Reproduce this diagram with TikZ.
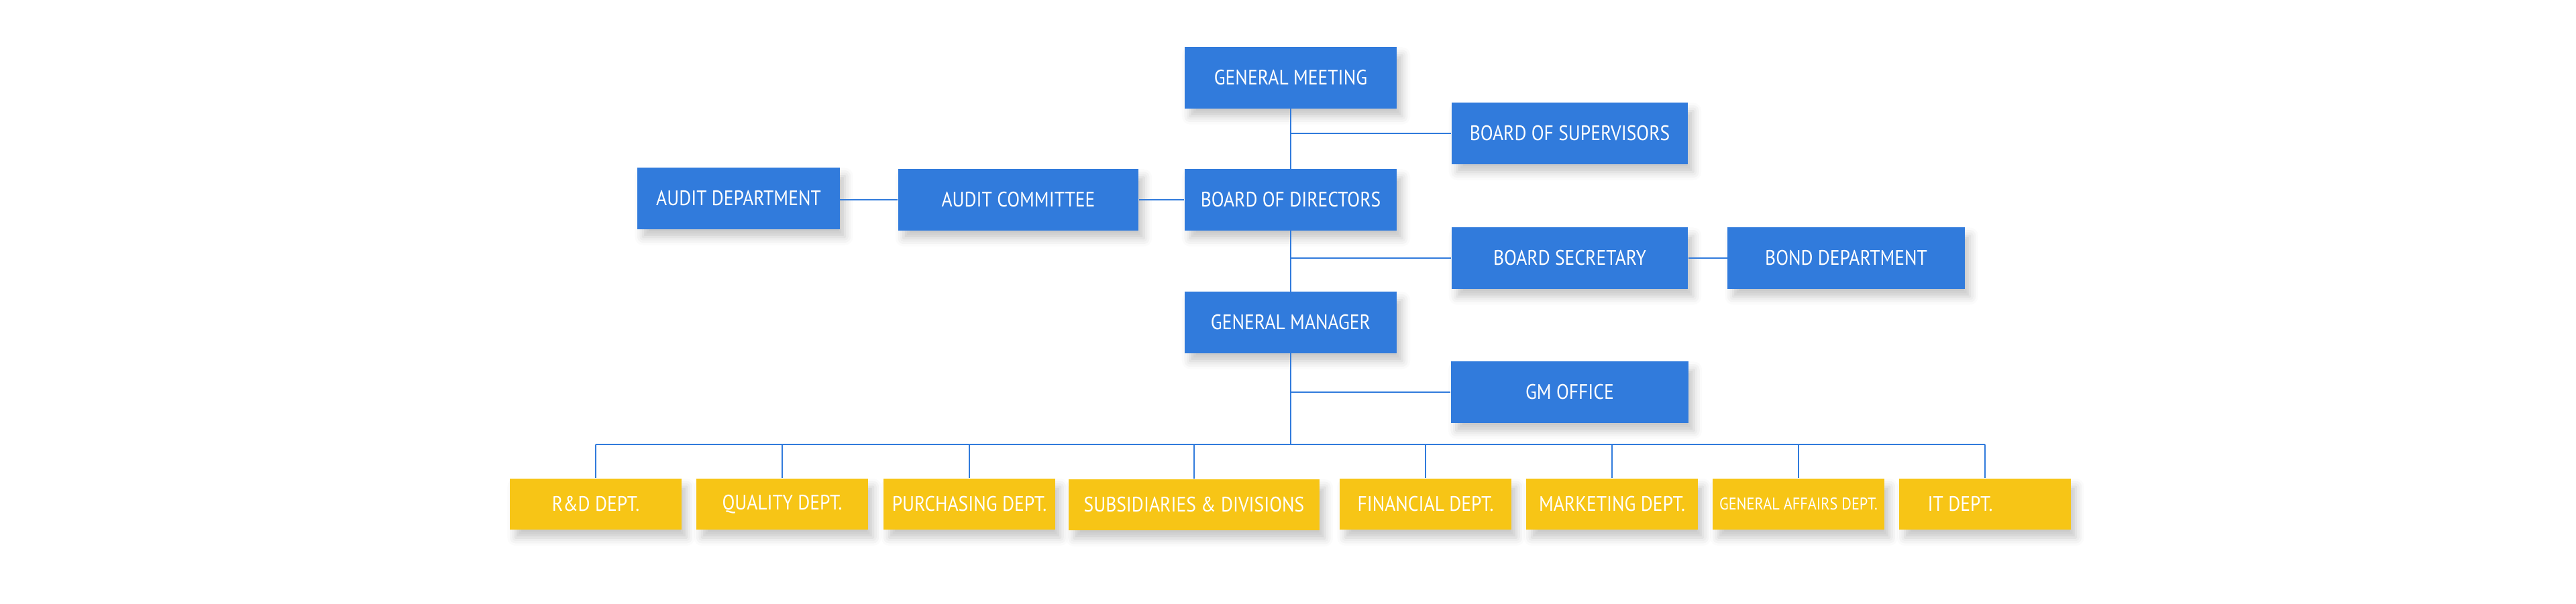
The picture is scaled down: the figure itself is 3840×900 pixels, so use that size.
\documentclass[tikz,border=0pt]{standalone}
\usepackage{fontspec}
\setmainfont{PT Sans}[FakeStretch=0.88]
\usetikzlibrary{shadows.blur}
\definecolor{orgblue}{HTML}{317BDC}
\definecolor{orgyellow}{HTML}{F7C516}
\tikzset{
    bluebox/.style={fill=orgblue, text=white, inner sep=0pt, minimum width=3.16cm, minimum height=0.91cm,
        font=\fontsize{8.9}{10}\selectfont,
        blur shadow={shadow xshift=0.08cm, shadow yshift=-0.12cm, shadow opacity=22, shadow blur radius=0.12cm}},
    deptbox/.style={bluebox, fill=orgyellow, minimum width=2.55cm, minimum height=0.76cm},
    link/.style={draw=orgblue, line width=0.6pt},
}
\begin{document}
\begin{tikzpicture}[x=0.01cm, y=-0.01cm]
    \useasboundingbox (0,0) rectangle (3840,900);
    % 股东会与董事会
    \node[bluebox] (meeting) at (1924,116) {GENERAL MEETING};
    \node[bluebox, minimum width=3.52cm] (supervisors) at (2340,199) {BOARD OF SUPERVISORS};
    \node[bluebox] (directors) at (1924,298) {BOARD OF DIRECTORS};
    \node[bluebox, minimum width=3.58cm] (committee) at (1518,298) {AUDIT COMMITTEE};
    \node[bluebox, minimum width=3.01cm] (auditdept) at (1101,296) {AUDIT DEPARTMENT};
    \node[bluebox, minimum width=3.52cm] (secretary) at (2340,385) {BOARD SECRETARY};
    \node[bluebox, minimum width=3.53cm] (bond) at (2752,385) {BOND DEPARTMENT};

    % 总经理
    \node[bluebox] (manager) at (1924,481) {GENERAL MANAGER};
    \node[bluebox, minimum width=3.54cm] (office) at (2340,585) {GM OFFICE};
    \coordinate (bus) at (1924,663);

    % 部门
    \node[deptbox] (rd) at (888,752) {R\&D DEPT.};
    \node[deptbox] (quality) at (1166,752) {QUALITY DEPT.};
    \node[deptbox] (purchasing) at (1445,752) {PURCHASING DEPT.};
    \node[deptbox, minimum width=3.74cm] (subsidiaries) at (1780,753) {SUBSIDIARIES \& DIVISIONS};
    \node[deptbox] (financial) at (2125,752) {FINANCIAL DEPT.};
    \node[deptbox] (marketing) at (2403,752) {MARKETING DEPT.};
    \node[deptbox, font=\fontsize{7.2}{8}\selectfont] (affairs) at (2681,752) {GENERAL AFFAIRS DEPT.};
    \node[deptbox] (it) at (2959,752) {IT DEPT.\hspace*{0.74cm}};

    % 连线
    \draw[link] (meeting.south) -- (directors.north);
    \draw[link] (supervisors.west) -- (supervisors.west -| meeting.south);
    \draw[link] (directors.west) -- (committee.east);
    \draw[link] (committee.west) -- (committee.west -| auditdept.east);
    \draw[link] (directors.south) -- (manager.north);
    \draw[link] (secretary.west) -- (secretary.west -| directors.south);
    \draw[link] (secretary.east) -- (bond.west);
    \draw[link] (office.west) -- (office.west -| manager.south);
    \draw[link] (manager.south) -- (bus);
    \draw[link, line width=0.8pt] (rd.north |- bus) -- (it.north |- bus);
    \foreach \d in {rd, quality, purchasing, subsidiaries, financial, marketing, affairs, it}
        \draw[link] (\d.north) -- (\d.north |- bus);
\end{tikzpicture}
\end{document}
